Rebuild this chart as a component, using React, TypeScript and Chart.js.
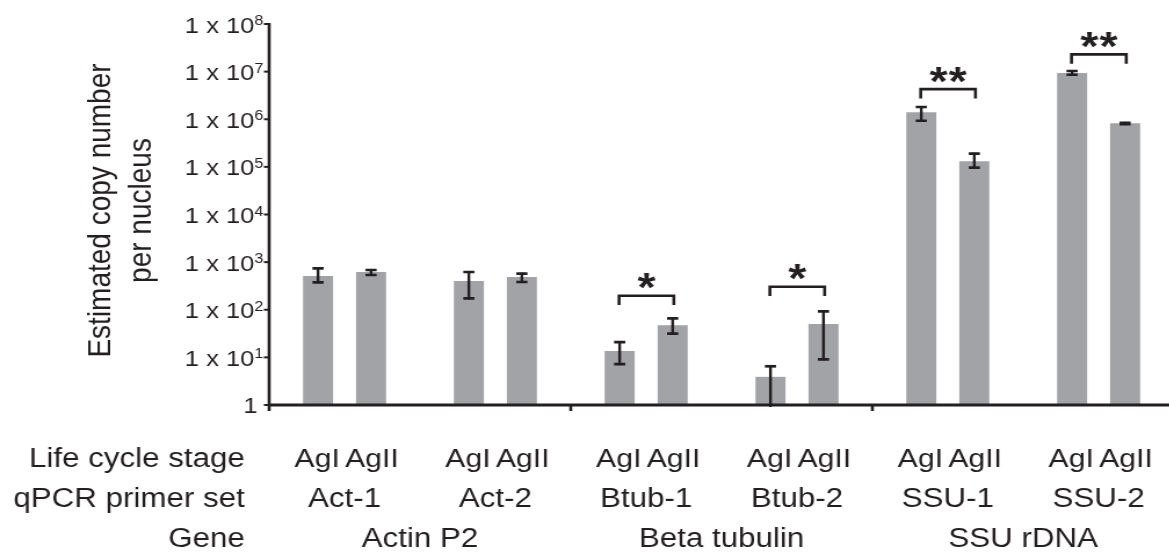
import React, { useEffect, useRef } from 'react';
import { Chart, registerables } from 'chart.js';

Chart.register(...registerables);

// ---------- data ----------
const PRIMER_SETS = ['Act-1', 'Act-2', 'Btub-1', 'Btub-2', 'SSU-1', 'SSU-2'];
const GENE_OF_SET = ['Actin P2', 'Actin P2', 'Beta tubulin', 'Beta tubulin', 'SSU rDNA', 'SSU rDNA'];
const GENES = ['Actin P2', 'Beta tubulin', 'SSU rDNA'];
const STAGES = ['AgI', 'AgII'];

const AGI_MEAN = [511, 402, 13.6, 3.9, 1.4e6, 9.35e6];
const AGI_LOW = [377, 174, 7.2, 1, 9.3e5, 8.6e6];
const AGI_HIGH = [742, 621, 21, 6.5, 1.81e6, 1.03e7];

const AGII_MEAN = [621, 487, 47.2, 50.3, 1.31e5, 8.2e5];
const AGII_LOW = [537, 383, 31.4, 9.1, 9.6e4, 7.9e5];
const AGII_HIGH = [684, 571, 66, 92.8, 1.89e5, 8.4e5];

const SIG_SETS = ['Btub-1', 'Btub-2', 'SSU-1', 'SSU-2'];
const SIG_MARKS = ['*', '*', '**', '**'];
const SIG_LEVELS = [197, 305, 4.3e6, 2.3e7];

const Y_EXPONENTS = [0, 1, 2, 3, 4, 5, 6, 7, 8];
const ROW_TITLES = ['Life cycle stage', 'qPCR primer set', 'Gene'];
const Y_TITLE = ['Estimated copy number', 'per nucleus'];

// ---------- style ----------
const SX = 1.16; // horizontal stretch of the original figure
const CW = 1012;
const CH = 554;
const INK = '#231f20';
const BAR = '#a2a3a7';
const FONT = '"Liberation Sans", Arial, Helvetica, sans-serif';

const overlay = {
  id: 'overlay',
  afterDatasetsDraw(chart: any) {
    const { ctx, chartArea: a, scales } = chart;
    const x = scales.x;
    const y = scales.y;
    ctx.save();
    ctx.strokeStyle = INK;
    ctx.fillStyle = INK;
    ctx.lineCap = 'butt';

    // error bars
    const errs = [
      [AGI_LOW, AGI_HIGH],
      [AGII_LOW, AGII_HIGH],
    ];
    errs.forEach(([lo, hi], di) => {
      const meta = chart.getDatasetMeta(di);
      meta.data.forEach((bar: any, j: number) => {
        const bx = bar.x;
        const yl = y.getPixelForValue(lo[j]);
        const yh = y.getPixelForValue(hi[j]);
        ctx.lineWidth = 2.4;
        ctx.beginPath();
        ctx.moveTo(bx, yl + (lo[j] <= 1 ? 2 : 1));
        ctx.lineTo(bx, yh - 1);
        ctx.stroke();
        ctx.lineWidth = 2.7;
        ctx.beginPath();
        ctx.moveTo(bx - 4.8, yh);
        ctx.lineTo(bx + 4.8, yh);
        if (lo[j] > 1) {
          ctx.moveTo(bx - 4.8, yl);
          ctx.lineTo(bx + 4.8, yl);
        }
        ctx.stroke();
      });
    });

    // axes
    ctx.lineWidth = 3;
    ctx.beginPath();
    ctx.moveTo(a.left, a.bottom);
    ctx.lineTo(a.right, a.bottom);
    ctx.stroke();
    ctx.lineWidth = 2.6;
    ctx.beginPath();
    ctx.moveTo(a.left, a.top - 1);
    ctx.lineTo(a.left, a.bottom + 6);
    ctx.stroke();

    // y ticks + labels
    Y_EXPONENTS.forEach((e) => {
      const ty = y.getPixelForValue(Math.pow(10, e));
      ctx.lineWidth = 2;
      ctx.beginPath();
      ctx.moveTo(a.left - 4.5, ty);
      ctx.lineTo(a.left, ty);
      ctx.stroke();
      ctx.textAlign = 'left';
      ctx.textBaseline = 'alphabetic';
      if (e === 0) {
        ctx.font = `22px ${FONT}`;
        ctx.textAlign = 'right';
        ctx.fillText('1', a.left - 10, ty + 8);
      } else {
        const main = '1 x 10';
        const sup = String(e);
        ctx.font = `22px ${FONT}`;
        const wm = ctx.measureText(main).width;
        ctx.font = `14px ${FONT}`;
        const ws = ctx.measureText(sup).width;
        const x0 = a.left - 5 - wm - ws;
        ctx.font = `22px ${FONT}`;
        ctx.fillText(main, x0, ty + 8.5);
        ctx.font = `14px ${FONT}`;
        ctx.fillText(sup, x0 + wm, ty + 1);
      }
    });

    // separator ticks between genes
    for (let i = 1; i < PRIMER_SETS.length; i++) {
      if (GENE_OF_SET[i] !== GENE_OF_SET[i - 1]) {
        const xb = (x.getPixelForValue(i - 1) + x.getPixelForValue(i)) / 2;
        ctx.lineWidth = 2.6;
        ctx.beginPath();
        ctx.moveTo(xb, a.bottom);
        ctx.lineTo(xb, a.bottom + 6);
        ctx.stroke();
      }
    }

    // bottom label rows
    ctx.font = `27px ${FONT}`;
    ctx.textBaseline = 'alphabetic';
    ctx.textAlign = 'right';
    const rowBase = [467, 507, 547];
    ROW_TITLES.forEach((t, r) => ctx.fillText(t, 211, rowBase[r]));
    ctx.textAlign = 'center';
    ctx.font = `26px ${FONT}`;
    STAGES.forEach((s, di) => {
      chart
        .getDatasetMeta(di)
        .data.forEach((bar: any) => ctx.fillText(s, bar.x + (di === 0 ? -0.8 : 0.8), rowBase[0]));
    });
    ctx.font = `27px ${FONT}`;
    PRIMER_SETS.forEach((p, i) => ctx.fillText(p, x.getPixelForValue(i), rowBase[1]));
    GENES.forEach((g) => {
      const idx = GENE_OF_SET.map((gg, i) => (gg === g ? i : -1)).filter((i) => i >= 0);
      const cx = idx.reduce((s, i) => s + x.getPixelForValue(i), 0) / idx.length;
      ctx.fillText(g, cx, rowBase[2]);
    });

    // y title
    ctx.font = `28px ${FONT}`;
    ctx.textAlign = 'center';
    const titleX = [95, 130];
    Y_TITLE.forEach((t, k) => {
      ctx.save();
      ctx.translate(titleX[k], (a.top + a.bottom) / 2 - 4);
      ctx.rotate(-Math.PI / 2);
      ctx.fillText(t, 0, 0);
      ctx.restore();
    });

    // significance brackets
    const m0 = chart.getDatasetMeta(0);
    const m1 = chart.getDatasetMeta(1);
    SIG_SETS.forEach((s, k) => {
      const i = PRIMER_SETS.indexOf(s);
      const x1 = m0.data[i].x - 0.5;
      const x2 = m1.data[i].x + 1;
      const ty = y.getPixelForValue(SIG_LEVELS[k]);
      ctx.lineWidth = 2.6;
      ctx.lineJoin = 'miter';
      ctx.beginPath();
      ctx.moveTo(x1, ty + 9.3);
      ctx.lineTo(x1, ty);
      ctx.lineTo(x2, ty);
      ctx.lineTo(x2, ty + 9.3);
      ctx.stroke();
      ctx.font = `bold 40px ${FONT}`;
      ctx.textAlign = 'center';
      ctx.textBaseline = 'alphabetic';
      const mt = ctx.measureText('*');
      const center = ty - 14.5;
      const base = center + (mt.actualBoundingBoxAscent - mt.actualBoundingBoxDescent) / 2;
      const n = SIG_MARKS[k].length;
      const cx = (x1 + x2) / 2;
      for (let q = 0; q < n; q++) {
        ctx.fillText('*', cx + (q - (n - 1) / 2) * 16.4, base);
      }
    });

    ctx.restore();
  },
};

export default function App() {
  const ref = useRef<HTMLCanvasElement | null>(null);
  useEffect(() => {
    if (!ref.current) return;
    const chart = new Chart(ref.current, {
      type: 'bar',
      data: {
        labels: PRIMER_SETS,
        datasets: [
          { label: STAGES[0], data: AGI_MEAN, backgroundColor: BAR, borderWidth: 0 },
          { label: STAGES[1], data: AGII_MEAN, backgroundColor: BAR, borderWidth: 0 },
        ],
      },
      options: {
        animation: false,
        responsive: false,
        devicePixelRatio: 1,
        layout: { padding: { left: 0, right: 0, top: 24, bottom: 0 } },
        datasets: { bar: { categoryPercentage: 0.703, barPercentage: 0.567 } } as any,
        plugins: { legend: { display: false }, tooltip: { enabled: false }, title: { display: false } },
        scales: {
          x: {
            type: 'category',
            offset: true,
            grid: { display: false },
            border: { display: false },
            ticks: { display: false },
            afterFit: (s: any) => {
              s.height = CH - 405;
            },
          },
          y: {
            type: 'logarithmic',
            min: 1,
            max: 1e8,
            grid: { display: false },
            border: { display: false },
            ticks: { display: false },
            afterBuildTicks: (s: any) => {
              s.ticks = Y_EXPONENTS.map((e) => ({ value: Math.pow(10, e) }));
            },
            afterFit: (s: any) => {
              s.width = 232;
            },
          },
        },
      },
      plugins: [overlay],
    });
    return () => chart.destroy();
  }, []);

  return (
    <div
      style={{
        position: 'fixed',
        left: 0,
        top: 0,
        width: 1169,
        height: 554,
        overflow: 'hidden',
        background: '#fff',
      }}
    >
      <canvas
        ref={ref}
        width={CW}
        height={CH}
        style={{ width: `${CW * SX}px`, height: `${CH}px`, display: 'block' }}
      />
    </div>
  );
}
